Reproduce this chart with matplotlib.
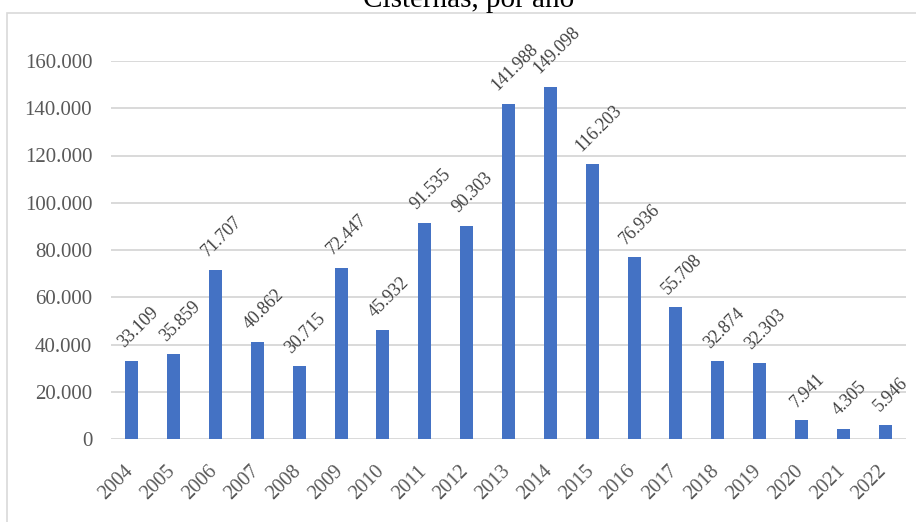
import matplotlib
matplotlib.use("Agg")
import matplotlib.pyplot as plt
import matplotlib.transforms as mtransforms
from matplotlib.patches import Rectangle

# Cisterns delivered per year
years = ["2004", "2005", "2006", "2007", "2008", "2009", "2010", "2011", "2012", "2013",
         "2014", "2015", "2016", "2017", "2018", "2019", "2020", "2021", "2022"]
cisterns = [33109, 35859, 71707, 40862, 30715, 72447, 45932, 91535, 90303, 141988,
            149098, 116203, 76936, 55708, 32874, 32303, 7941, 4305, 5946]
y_ticks = [0, 20000, 40000, 60000, 80000, 100000, 120000, 140000, 160000]
title = "Cisternas, por ano"

BAR = "#4472C4"
GRID = "#d9d9d9"
TICK = "#595959"
LABEL = "#404040"
FONT = "Liberation Serif"

plt.rcParams["font.family"] = [FONT, "DejaVu Serif"]

W, H = 916, 522
fig = plt.figure(figsize=(W / 100, H / 100), dpi=100)

# chart frame (runs off the right and bottom edges)
fig.patches.append(Rectangle((7 / W, -0.2), 2.0, 1.2 - 13 / H,
                             transform=fig.transFigure, fill=False,
                             edgecolor=GRID, linewidth=1.2))

ax = fig.add_axes([111 / W, (H - 439) / H, 795 / W, 378 / H])

def fmt(v):
    return f"{v:,}".replace(",", ".")

x = list(range(len(years)))
ax.bar(x, cisterns, width=0.31, color=BAR, zorder=3)
ax.set_xlim(-0.5, len(years) - 0.5)
ax.set_ylim(0, 160000)

ax.set_yticks(y_ticks)
ax.set_yticklabels([fmt(v) for v in y_ticks])
ax.yaxis.grid(True, color=GRID, linewidth=1.4, zorder=0)
ax.tick_params(axis="y", length=0, pad=13.5, labelsize=15, labelcolor=TICK)

ax.set_xticks(x)
ax.set_xticklabels(years, rotation=45, ha="right", va="top")
ax.tick_params(axis="x", length=0, pad=16.5, labelsize=14.5, labelcolor=TICK)
shift = mtransforms.ScaledTranslation(5.5 / 100, 0, fig.dpi_scale_trans)
for lab in ax.get_xticklabels():
    lab.set_transform(lab.get_transform() + shift)

for s in ax.spines.values():
    s.set_visible(False)

for xi, v in zip(x, cisterns):
    ax.annotate(fmt(v), (xi, v), xytext=(4.5, 7), textcoords="offset points",
                rotation=45, ha="center", va="bottom", fontsize=13,
                color=LABEL, clip_on=False, zorder=4)

fig.text(469 / W, (H - 7) / H, title, ha="center", va="baseline",
         fontsize=21, color="black")

fig.savefig("out.png", dpi=100)
